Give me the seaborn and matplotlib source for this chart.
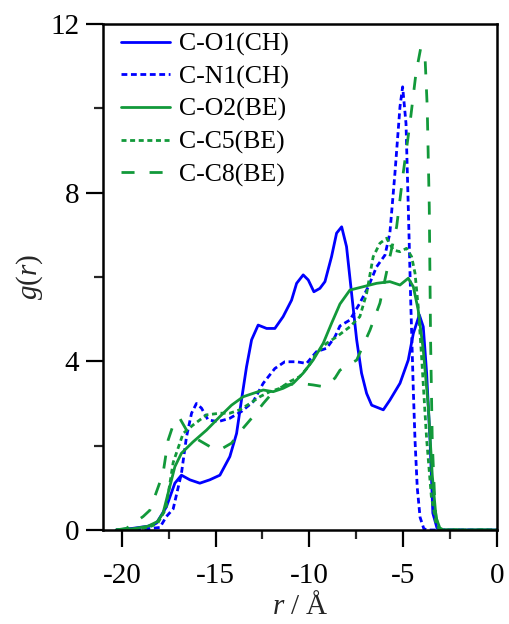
import matplotlib
matplotlib.use("Agg")
import matplotlib.pyplot as plt
import seaborn as sns

# ---- data ----
x_o1_ch = [-20.3, -19.4, -18.6, -18.15, -17.62, -17.17, -16.82, -16.37, -15.84, -15.31, -14.77, -14.24,
           -13.88, -13.62, -13.35, -13.08, -12.73, -12.28, -11.84, -11.40, -10.95, -10.68, -10.33, -10.06,
           -9.76, -9.44, -9.17, -8.82, -8.55, -8.28, -8.02, -7.75, -7.48, -7.22, -6.95, -6.68, -6.06,
           -5.71, -5.17, -4.73, -4.46, -4.14, -3.93, -3.75, -3.57, -3.42, -3.2, -3.0, 0.0]
y_o1_ch = [0.0, 0.04, 0.09, 0.16, 0.55, 1.11, 1.30, 1.19, 1.11, 1.19, 1.30, 1.74,
           2.29, 3.08, 3.87, 4.51, 4.86, 4.78, 4.78, 5.06, 5.45, 5.85, 6.05, 5.93,
           5.65, 5.73, 5.89, 6.48, 7.04, 7.19, 6.72, 5.61, 4.51, 3.72, 3.24, 2.96, 2.85,
           3.08, 3.48, 4.03, 4.66, 5.10, 4.82, 3.72, 2.13, 0.4, 0.05, 0.0, 0.0]

x_n1_ch = [-20.3, -19.4, -18.6, -17.97, -17.62, -17.26, -16.82, -16.55, -16.28, -16.02, -15.75, -15.40,
           -14.86, -14.24, -13.62, -13.0, -12.46, -11.84, -11.31, -10.68, -10.15, -9.62, -9.08, -8.64,
           -8.37, -7.84, -7.31, -6.86, -6.42, -5.97, -5.71, -5.44, -5.17, -5.03, -4.85, -4.73, -4.59,
           -4.46, -4.37, -4.25, -4.1, -3.9, -3.7, 0.0]
y_n1_ch = [0.0, 0.01, 0.03, 0.06, 0.32, 0.5, 1.34, 2.21, 2.77, 3.00, 2.89, 2.61,
           2.57, 2.65, 2.81, 3.04, 3.48, 3.83, 3.99, 3.99, 3.95, 4.23, 4.31, 4.58,
           4.84, 4.98, 5.38, 5.77, 6.24, 6.52, 7.04, 8.46, 10.04, 10.51, 9.64, 7.67, 5.30,
           3.32, 2.13, 1.0, 0.3, 0.03, 0.0, 0.0]

x_o2_be = [-20.3, -19.4, -18.6, -18.1, -17.8, -17.44, -17.17, -16.82, -16.2, -15.48, -14.77, -14.15,
           -13.53, -13.0, -12.46, -11.93, -11.4, -10.86, -10.33, -9.8, -9.26, -8.82, -8.37, -7.84,
           -7.13, -6.42, -5.71, -5.17, -4.73, -4.46, -4.2, -3.93, -3.66, -3.45, -3.25, -3.05, -2.85, 0.0]
y_o2_be = [0.0, 0.03, 0.09, 0.2, 0.40, 1.03, 1.50, 1.82, 2.09, 2.37, 2.69, 2.96,
           3.16, 3.24, 3.32, 3.28, 3.36, 3.48, 3.72, 4.03, 4.43, 4.90, 5.36, 5.69,
           5.77, 5.85, 5.89, 5.81, 5.97, 5.77, 5.22, 4.27, 2.92, 1.3, 0.3, 0.05, 0.0, 0.0]

x_c5_be = [-20.3, -19.4, -18.6, -18.1, -17.65, -17.26, -16.73, -16.2, -15.48, -14.77, -14.24, -13.71,
           -13.17, -12.64, -12.11, -11.57, -11.04, -10.51, -10.06, -9.62, -9.08, -8.55, -7.84, -7.31,
           -6.95, -6.6, -6.24, -5.88, -5.53, -5.17, -4.82, -4.55, -4.37, -4.2, -4.02, -3.75, -3.5,
           -3.25, -3.05, 0.0]
y_c5_be = [0.0, 0.02, 0.06, 0.15, 0.5, 1.6, 2.29, 2.49, 2.73, 2.77, 2.77, 2.85,
           3.0, 3.16, 3.28, 3.36, 3.52, 3.64, 3.87, 4.19, 4.43, 4.58, 4.82, 5.06,
           5.61, 6.48, 6.80, 6.92, 6.64, 6.6, 6.68, 6.48, 6.09, 5.3, 4.11, 2.15, 0.8,
           0.15, 0.0, 0.0]

x_c8_be = [-20.3, -19.75, -19.4, -18.86, -18.5, -17.8, -17.53, -17.17, -16.91, -16.55, -16.2, -15.31,
           -14.77, -14.15, -13.62, -13.08, -12.46, -11.84, -11.22, -10.51, -9.8, -9.26, -8.64, -8.37,
           -7.48, -6.77, -6.24, -5.71, -5.35, -5.0, -4.64, -4.32, -4.07, -3.84, -3.72, -3.61, -3.54,
           -3.45, -3.3, -3.15, -3.0, 0.0]
y_c8_be = [0.0, 0.04, 0.15, 0.32, 0.47, 1.34, 2.13, 2.61, 2.65, 2.37, 2.21, 1.98,
           1.90, 2.06, 2.37, 2.65, 3.0, 3.32, 3.44, 3.48, 3.44, 3.40, 3.60, 3.79,
           4.03, 4.74, 5.38, 6.48, 7.19, 8.46, 9.64, 10.83, 11.42, 11.26, 10.04, 7.67, 4.51,
           2.1, 0.5, 0.05, 0.0, 0.0]

labels = ["C-O1(CH)", "C-N1(CH)", "C-O2(BE)", "C-C5(BE)", "C-C8(BE)"]
x_ticks = [-20, -15, -10, -5, 0]
y_ticks = [0, 4, 8, 12]

# ---- style ----
sns.set_style("ticks")
plt.rcParams["font.family"] = ["Liberation Serif", "DejaVu Serif"]
plt.rcParams["mathtext.fontset"] = "custom"
plt.rcParams["mathtext.rm"] = "Liberation Serif"
plt.rcParams["mathtext.it"] = "Liberation Serif:italic"
plt.rcParams["axes.unicode_minus"] = False

blue = "#0000ff"
green = "#12993a"
lw = 2.0
series = [
    (x_o1_ch, y_o1_ch, blue, "-"),
    (x_n1_ch, y_n1_ch, blue, (0, (2.1, 1.3))),
    (x_o2_be, y_o2_be, green, "-"),
    (x_c5_be, y_c5_be, green, (0, (1.8, 1.3))),
    (x_c8_be, y_c8_be, green, (0, (4.7, 5.4))),
]

fig = plt.figure(figsize=(5.09, 6.24), dpi=100)
ax = fig.add_axes([103 / 509, 1 - 530 / 624, 394 / 509, 506 / 624])

for (xs, ys, c, ls), lab in zip(series, labels):
    sns.lineplot(x=xs, y=ys, color=c, linestyle=ls, linewidth=lw, label=lab,
                 sort=False, estimator=None, ax=ax)

ax.set_xlim(-21.0, 0)
ax.set_ylim(0, 12)
ax.set_xticks(x_ticks)
ax.set_yticks(y_ticks)
ax.set_xticks([-17.5, -12.5, -7.5, -2.5], minor=True)
ax.set_yticks([2, 6, 10], minor=True)
ax.tick_params(which="major", direction="out", length=12, width=1.6, labelsize=21,
               colors="black", top=False, right=False)
ax.tick_params(axis="x", which="major", pad=12)
ax.tick_params(axis="y", which="major", pad=5)
ax.tick_params(which="minor", direction="out", length=6.5, width=1.6, top=False, right=False)
for s in ax.spines.values():
    s.set_visible(True)
    s.set_linewidth(1.8)
    s.set_color("black")

ax.set_xlabel(r"$r$ / Å", fontsize=21, labelpad=2)
ax.set_ylabel(r"$g$($r$)", fontsize=21, labelpad=4)

leg = ax.legend(loc="upper left", bbox_to_anchor=(0.045, 0.983), frameon=False,
                fontsize=18.5, handlelength=1.9, handletextpad=0.35, labelspacing=0.36,
                borderpad=0, borderaxespad=0)
for t in leg.get_texts():
    t.set_color("black")

fig.savefig("out.png", dpi=100)
